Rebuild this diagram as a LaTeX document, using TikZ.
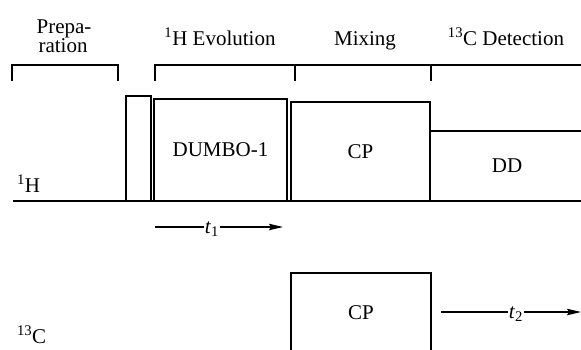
\documentclass[tikz,border=0pt]{standalone}
\usepackage{fontspec}
\setmainfont{Liberation Serif}
\usetikzlibrary{arrows.meta}
\tikzset{
  lbl/.style={font=\fontsize{21}{21}\selectfont, inner sep=0pt, outer sep=0pt},
  boxnode/.style={draw, line width=2.4pt, anchor=south west, inner sep=0pt, outer sep=0pt, font=\fontsize{21}{21}\selectfont},
  brk/.style={line width=1.4pt},
  base/.style={line width=2pt},
  thinline/.style={line width=1.3pt},
  arrline/.style={line width=1.3pt, -{Stealth[length=14pt,width=6.5pt,inset=2pt]}},
}
\begin{document}
\begin{tikzpicture}[x=1pt,y=-1pt]
\useasboundingbox (0,0) rectangle (581,349);
\clip (0,0) rectangle (581,349);
% header labels
\node[lbl, anchor=base] (prep1) at (64,33) {Prepa-};
\node[lbl, anchor=base] (prep2) at (63,52) {ration};
\node[lbl, anchor=base] (evol) at (220,45) {\textsuperscript{1}H Evolution};
\node[lbl, anchor=base] (mix) at (365,45) {Mixing};
\node[lbl, anchor=base] (det) at (506,45) {\textsuperscript{13}C Detection};
% brackets
\coordinate (b1a) at (12,81);
\coordinate (b1b) at (12,65);
\coordinate (b1c) at (118,65);
\coordinate (b1d) at (118,81);
\draw[brk] (b1a) -- (b1b) -- (b1c) -- (b1d);
\coordinate (b2a) at (155,81);
\coordinate (b2b) at (155,65);
\coordinate (b2c) at (582,65);
\draw[brk] (b2a) -- (b2b) -- (b2c);
\coordinate (m1t) at (295,65);
\coordinate (m1b) at (295,81);
\coordinate (m2t) at (431,65);
\coordinate (m2b) at (431,81);
\draw[brk] (m1t) -- (m1b);
\draw[brk] (m2t) -- (m2b);
% 1H channel
\coordinate (hl) at (13,201);
\coordinate (hr) at (582,201);
\draw[base] (hl) -- (hr);
\node[lbl, anchor=base west] (hlab) at (17,192) {\textsuperscript{1}H};
\node[boxnode, minimum width=25pt, minimum height=105pt] (pulse) at (126,201) {};
\node[boxnode, minimum width=133pt, minimum height=102pt] (dumbo) at (154,201) {DUMBO-1};
\node[boxnode, minimum width=139pt, minimum height=99pt] (cp1) at (291,201) {CP};
\coordinate (dda) at (430,201);
\coordinate (ddb) at (430,131);
\coordinate (ddc) at (583,131);
\draw[line width=2.4pt] (dda) -- (ddb) -- (ddc);
\node[lbl] (dd) at (507,166) {DD};
% t1
\coordinate (t1s) at (155,227);
\coordinate (t1e) at (283,227);
\node[lbl, anchor=base, inner xsep=1pt] (t1lab) at (212,233) {\textit{t}\textsubscript{1}};
\draw[thinline] (t1s) -- (t1s -| t1lab.west);
\draw[arrline] (t1lab.east |- t1s) -- (t1e);
% 13C channel
\node[lbl, anchor=base west] (clab) at (17,343) {\textsuperscript{13}C};
\node[boxnode, minimum width=140pt, minimum height=80pt] (cp2) at (291,353) {CP};
\coordinate (t2s) at (441,312);
\coordinate (t2e) at (581,312);
\node[lbl, anchor=base, inner xsep=1pt] (t2lab) at (516,318) {\textit{t}\textsubscript{2}};
\draw[thinline] (t2s) -- (t2s -| t2lab.west);
\draw[arrline] (t2lab.east |- t2s) -- (t2e);
\end{tikzpicture}
\end{document}
